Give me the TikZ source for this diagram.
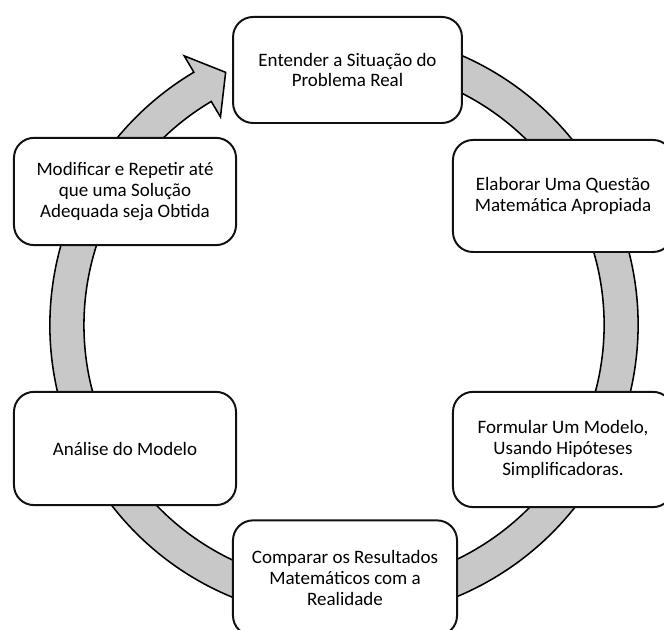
\documentclass[tikz,border=0pt]{standalone}
\usepackage{fontspec}
\setmainfont{Carlito}
\usepackage{xcolor}
\definecolor{band-gray}{HTML}{C8C8C8}
\definecolor{box-line}{HTML}{111111}

\begin{document}
\begin{tikzpicture}[x=0.025cm, y=0.025cm,
    stage/.style={draw=box-line, fill=white, line width=1.4pt, rounded corners=0.5cm,
                  align=center, font=\fontsize{13.5}{14.8}\selectfont, inner sep=0pt},
    band/.style={draw=black, fill=band-gray, line width=1.1pt, line join=miter}]
    \useasboundingbox (0,0) rectangle (664,630);
    % ring arrow behind the stages
    \begin{scope}[shift={(344,305)}]
      \draw[band] (80:294) arc[start angle=80, end angle=-239.3, radius=7.35cm]
        -- (-239.3:313) -- (-244.9:279) -- (-239.3:242) -- (-239.3:260)
        arc[start angle=-239.3, end angle=80, radius=6.5cm] -- cycle;
    \end{scope}
    % stages
    \node[stage, minimum width=5.72cm, minimum height=2.65cm] (ent) at (347.5,560)
      {Entender a Situação do\\ Problema Real};
    \node[stage, minimum width=5.5cm, minimum height=2.8cm] (elab) at (563,434)
      {Elaborar Uma Questão\\ Matemática Apropiada};
    \node[stage, minimum width=5.5cm, minimum height=2.88cm] (form) at (563,180.5)
      {Formular Um Modelo,\\ Usando Hipóteses\\ Simplificadoras.};
    \node[stage, minimum width=5.6cm, minimum height=2.88cm] (comp) at (345,52)
      {Comparar os Resultados\\ Matemáticos com a\\ Realidade};
    \node[stage, minimum width=5.55cm, minimum height=2.83cm] (anal) at (125,181.5)
      {Análise do Modelo};
    \node[stage, minimum width=5.55cm, minimum height=2.68cm] (modif) at (125,438.5)
      {Modificar e Repetir até\\ que uma Solução\\ Adequada seja Obtida};
\end{tikzpicture}
\end{document}
